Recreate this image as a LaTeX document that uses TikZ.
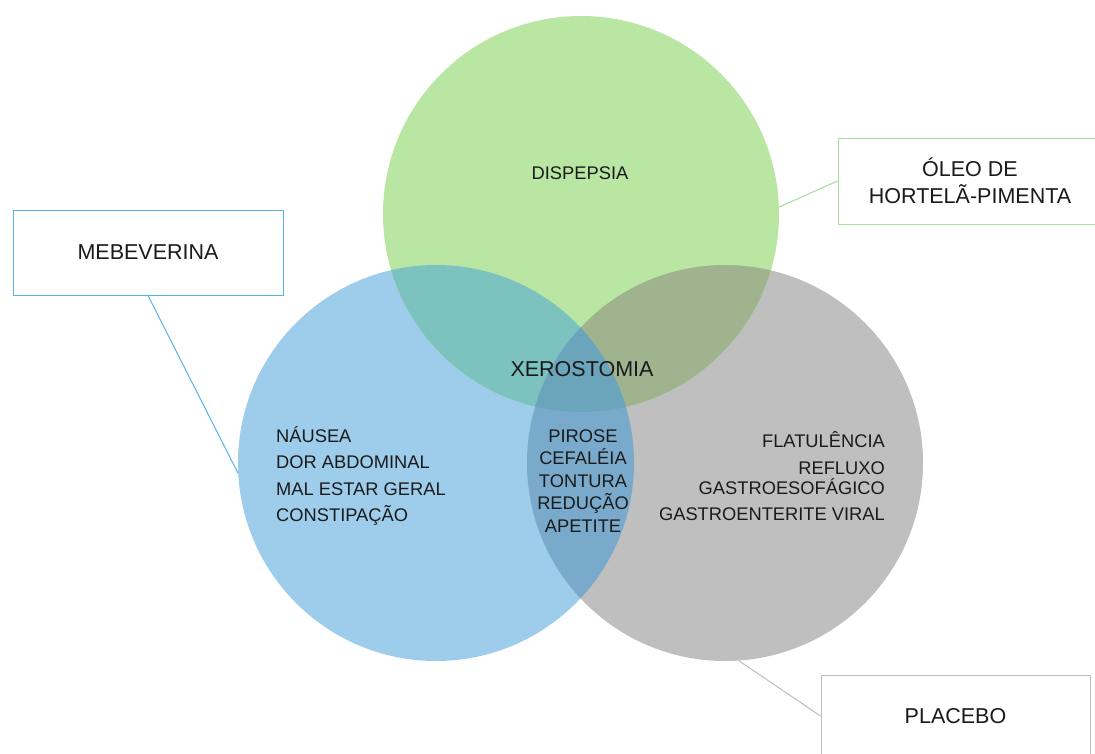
\documentclass[tikz,border=0pt]{standalone}
\usepackage{fontspec}
\setmainfont{Liberation Sans}
\definecolor{cB}{HTML}{9ECDEC}
\definecolor{cG}{HTML}{B9E6A3}
\definecolor{cY}{HTML}{BFBFBF}
\definecolor{cBG}{HTML}{7CC2BF}
\definecolor{cGY}{HTML}{9FB38F}
\definecolor{cBY}{HTML}{7AAACB}
\definecolor{cBGY}{HTML}{6BA5BC}
\definecolor{bB}{HTML}{56B4E9}
\definecolor{bG}{HTML}{A5E09A}
\definecolor{bY}{HTML}{BDBDBD}
\definecolor{txt}{HTML}{1A1A1A}
\tikzset{
  venn/.style={circle, minimum size=396pt, inner sep=0pt, draw=none},
  labelbox/.style={rectangle, draw, line width=1pt, fill=white, text=txt, align=center, inner sep=0pt, font=\fontsize{21.5}{27}\selectfont},
  body/.style={text=txt, inner sep=0pt, font=\fontsize{18.3}{26.3}\selectfont},
  conn/.style={line width=1pt},
}
\begin{document}
\begin{tikzpicture}[x=1pt,y=-1pt]
\useasboundingbox (0,0) rectangle (1095,753);
\fill[white] (0,0) rectangle (1095,753);
% circles
\node[venn, fill=cB] (B) at (436,463) {};
\node[venn, fill=cY] (Y) at (725,463) {};
\node[venn, fill=cG] (G) at (581,214) {};
% pairwise overlaps
\begin{scope}
  \clip (436,463) circle[radius=198pt];
  \fill[cBG] (581,214) circle[radius=198pt];
\end{scope}
\begin{scope}
  \clip (725,463) circle[radius=198pt];
  \fill[cGY] (581,214) circle[radius=198pt];
\end{scope}
\begin{scope}
  \clip (436,463) circle[radius=198pt];
  \fill[cBY] (725,463) circle[radius=198pt];
\end{scope}
\begin{scope}
  \clip (436,463) circle[radius=198pt];
  \clip (581,214) circle[radius=198pt];
  \fill[cBGY] (725,463) circle[radius=198pt];
\end{scope}
% texts in circles
\node[body] (dis) at (580,173) {DISPEPSIA};
\node[body, font=\fontsize{21.5}{26}\selectfont] (xer) at (582,369) {XEROSTOMIA};
\node[body, anchor=west, align=left] (left) at (276,476) {NÁUSEA\\DOR ABDOMINAL\\MAL ESTAR GERAL\\CONSTIPAÇÃO};
\node[body, align=center, font=\fontsize{18.3}{22.5}\selectfont] (mid) at (583,481) {PIROSE\\CEFALÉIA\\TONTURA\\REDUÇÃO\\APETITE};
\node[body, anchor=east, align=right, font=\fontsize{18.3}{20}\selectfont] (right) at (885,476) {FLATULÊNCIA\\[7pt]REFLUXO\\GASTROESOFÁGICO\\[6pt]GASTROENTERITE VIRAL};
% label boxes
\node[labelbox, draw=bB, minimum width=270pt, minimum height=85pt] (meb) at (148,252.5) {MEBEVERINA};
\node[labelbox, draw=bG, minimum width=264pt, minimum height=86pt] (oleo) at (970,181) {ÓLEO DE\\HORTELÃ-PIMENTA};
\node[labelbox, draw=bY, minimum width=269pt, minimum height=82pt] (plac) at (955.5,716) {PLACEBO};
% connectors
\draw[conn, bB] (meb.south) -- (B.183.5);
\draw[conn, bG] (oleo.west) -- (G.2);
\draw[conn, bY] (plac.west) -- (Y.274);
\end{tikzpicture}
\end{document}
